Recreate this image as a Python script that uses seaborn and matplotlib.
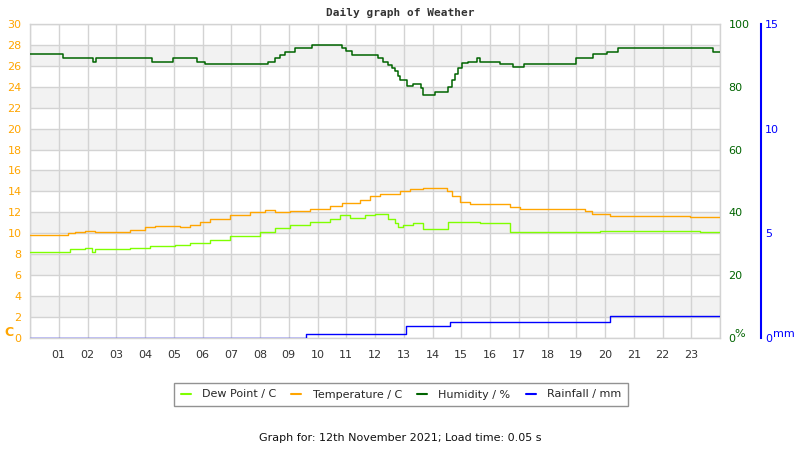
import matplotlib
matplotlib.use("Agg")
import matplotlib.pyplot as plt
from matplotlib.lines import Line2D
import seaborn as sns
import pandas as pd

# ---------------- data ----------------
hum_hours = [0.0, 1.15, 2.19, 2.30, 4.24, 4.97, 5.81, 6.09, 8.28, 8.52, 8.70, 8.87,
             9.22, 9.81, 10.85, 10.99, 11.20, 12.10, 12.28, 12.45, 12.59, 12.70, 12.80,
             12.87, 13.11, 13.32, 13.60, 13.67, 14.09, 14.55, 14.67, 14.78, 14.90, 15.03,
             15.23, 15.55, 15.65, 16.35, 16.80, 17.18, 18.99, 19.58, 20.07, 20.45, 23.76, 24.0]
hum_vals = [90.3, 89.0, 88.0, 89.0, 88.0, 89.0, 88.0, 87.2, 88.0, 89.0, 90.0, 91.2,
            92.2, 93.2, 92.3, 91.4, 90.0, 89.0, 88.0, 87.0, 86.0, 85.0, 83.5,
            82.0, 80.2, 81.0, 79.5, 77.4, 78.2, 80.0, 82.0, 84.0, 86.0, 87.5,
            88.0, 89.0, 88.0, 87.2, 86.3, 87.2, 89.0, 90.4, 91.2, 92.3, 91.2, 91.2]

temp_hours = [0.0, 1.32, 1.57, 1.91, 2.26, 3.48, 4.00, 4.35, 5.22, 5.57, 5.91, 6.26,
              6.96, 7.65, 8.17, 8.52, 9.04, 9.74, 10.43, 10.85, 11.48, 11.83, 12.17,
              12.87, 13.22, 13.67, 14.50, 14.68, 14.96, 15.30, 16.70, 17.04, 19.30,
              19.55, 20.17, 22.96, 24.0]
temp_vals = [9.8, 10.0, 10.1, 10.2, 10.1, 10.3, 10.6, 10.7, 10.6, 10.8, 11.1, 11.4,
             11.7, 12.0, 12.2, 12.0, 12.1, 12.3, 12.6, 12.9, 13.2, 13.6, 13.75,
             14.0, 14.2, 14.35, 14.0, 13.6, 13.0, 12.8, 12.55, 12.3, 12.1,
             11.85, 11.65, 11.55, 11.55]

dew_hours = [0.0, 1.39, 1.91, 2.16, 2.26, 3.48, 4.17, 5.04, 5.57, 6.26, 6.96, 8.00,
             8.52, 9.04, 9.74, 10.43, 10.78, 11.13, 11.65, 12.00, 12.45, 12.70, 12.80,
             12.97, 13.32, 13.67, 14.54, 15.65, 16.70, 19.83, 23.30, 24.0]
dew_vals = [8.2, 8.5, 8.6, 8.2, 8.5, 8.6, 8.8, 8.9, 9.1, 9.4, 9.7, 10.1,
            10.5, 10.8, 11.1, 11.4, 11.7, 11.45, 11.7, 11.8, 11.4, 11.0, 10.6,
            10.8, 11.0, 10.4, 11.1, 10.95, 10.15, 10.2, 10.1, 10.1]

rain_hours = [0.0, 9.6, 13.08, 14.6, 20.17, 24.0]
rain_vals = [0.0, 0.2, 0.55, 0.75, 1.05, 1.05]

x_ticks = list(range(1, 24))
x_labels = [f"{h:02d}" for h in x_ticks]
temp_ticks = list(range(0, 31, 2))
hum_ticks = [0, 20, 40, 60, 80, 100]
rain_ticks = [0, 5, 10, 15]

series_names = ["Dew Point / C", "Temperature / C", "Humidity / %", "Rainfall / mm"]
series_colors = ["#7fff00", "#ffa500", "#006400", "#0000ff"]

# ---------------- figure ----------------
sns.set_style("white")
plt.rcParams['font.family'] = ['DejaVu Sans']

fig = plt.figure(figsize=(8, 4.5), dpi=100)
ax = fig.add_axes([0.0375, 0.249, 0.8625, 0.6978])
ax2 = ax.twinx()
ax3 = ax.twinx()

grid_c = "#d3d3d3"
for lo in range(2, 28, 4):
    ax.axhspan(lo, lo + 2, color="#f2f2f2", zorder=0, lw=0)
for y in temp_ticks:
    ax.axhline(y, color=grid_c, lw=1, zorder=0.5)
for x in range(0, 25):
    ax.axvline(x, color=grid_c, lw=1, zorder=0.5)

df_dew = pd.DataFrame({"h": dew_hours, "v": dew_vals})
df_temp = pd.DataFrame({"h": temp_hours, "v": temp_vals})
df_hum = pd.DataFrame({"h": hum_hours, "v": hum_vals})
df_rain = pd.DataFrame({"h": rain_hours, "v": rain_vals})

sns.lineplot(data=df_dew, x="h", y="v", ax=ax, color=series_colors[0], lw=1.0,
             drawstyle="steps-post", zorder=3)
sns.lineplot(data=df_temp, x="h", y="v", ax=ax, color=series_colors[1], lw=1.0,
             drawstyle="steps-post", zorder=3)
sns.lineplot(data=df_hum, x="h", y="v", ax=ax2, color=series_colors[2], lw=1.1,
             drawstyle="steps-post", zorder=3)
sns.lineplot(data=df_rain, x="h", y="v", ax=ax3, color=series_colors[3], lw=1.0,
             drawstyle="steps-post", zorder=3)

ax.set_xlim(0, 24)
ax.set_ylim(0, 30)
ax2.set_ylim(0, 100)
ax3.set_ylim(0, 15)
for a in (ax, ax2, ax3):
    a.set_xlabel("")
    a.set_ylabel("")

ax.set_xticks(x_ticks)
ax.set_xticklabels(x_labels)
ax.set_yticks(temp_ticks)
ax.tick_params(axis="x", length=0, pad=9, labelsize=8, labelcolor="#333333")
ax.tick_params(axis="y", length=0, pad=6, labelsize=8, labelcolor="#ffa500")
for s in ax.spines.values():
    s.set_color(grid_c)
    s.set_linewidth(1)

ax2.set_yticks(hum_ticks)
ax2.tick_params(axis="y", length=0, pad=6, labelsize=8, labelcolor="#006400")
for s in ax2.spines.values():
    s.set_visible(False)

ax3.set_yticks(rain_ticks)
ax3.tick_params(axis="y", length=0, pad=3, labelsize=8, labelcolor="#0000ff")
for k, s in ax3.spines.items():
    s.set_visible(k == "right")
ax3.spines["right"].set_position(("axes", (761 - 30) / 690))
ax3.spines["right"].set_color("#0000ff")
ax3.spines["right"].set_linewidth(1.5)

# unit labels
fig.text(4 / 800, 1 - 333 / 450, "C", color="#ffa500", fontsize=9, fontweight="bold",
         ha="left", va="center")
fig.text(740 / 800, 1 - 334 / 450, "%", color="#006400", fontsize=8, ha="center", va="center")
fig.text(784 / 800, 1 - 334 / 450, "mm", color="#0000ff", fontsize=8, ha="center", va="center")

fig.text(0.5, 1 - 13 / 450, "Daily graph of Weather", family="DejaVu Sans Mono",
         fontweight="bold", fontsize=8, color="#333333", ha="center", va="center")

handles = [Line2D([0], [0], color=c, lw=1.5) for c in series_colors]
leg = fig.legend(handles, series_names, loc="center", bbox_to_anchor=(401 / 800, 1 - 394.5 / 450),
                 ncol=4, frameon=True, fancybox=False, fontsize=8, handlelength=0.9,
                 handletextpad=1.0, columnspacing=1.4, borderpad=0.6, borderaxespad=0)
leg.get_frame().set_edgecolor("#777777")
leg.get_frame().set_linewidth(1)

fig.text(0.5, 1 - 438 / 450, "Graph for: 12th November 2021; Load time: 0.05 s",
         fontsize=8, color="#111111", ha="center", va="center")

fig.savefig("out.png", dpi=100)
